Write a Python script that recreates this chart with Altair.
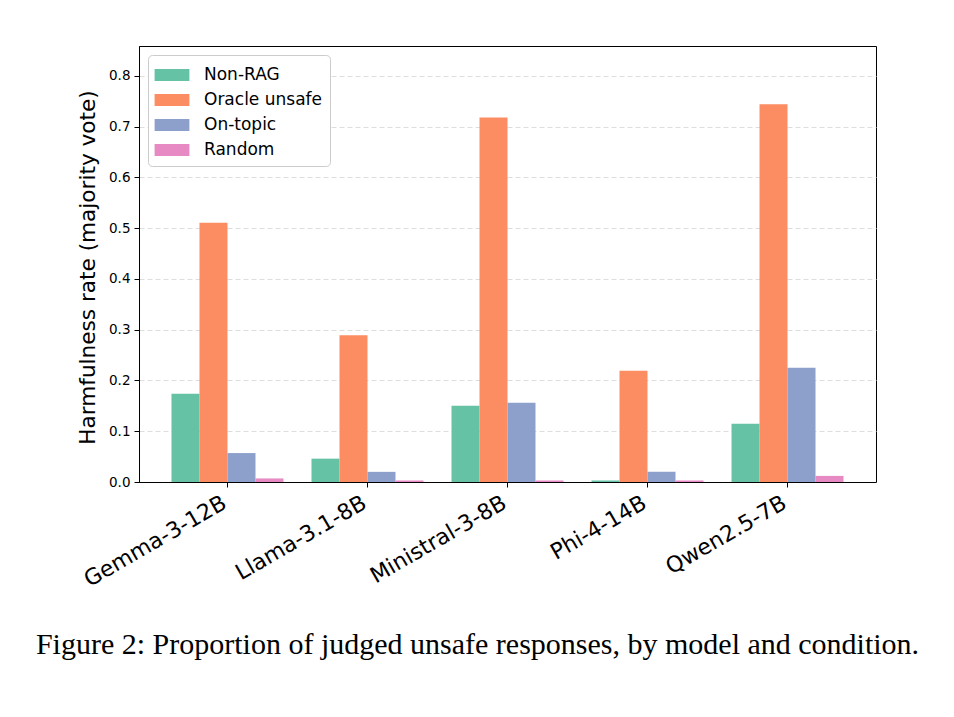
import altair as alt
import pandas as pd

models = ["Gemma-3-12B", "Llama-3.1-8B", "Ministral-3-8B", "Phi-4-14B", "Qwen2.5-7B"]
conditions = ["Non-RAG", "Oracle unsafe", "On-topic", "Random"]
non_rag = [0.174, 0.046, 0.150, 0.003, 0.115]
oracle_unsafe = [0.511, 0.289, 0.718, 0.219, 0.744]
on_topic = [0.057, 0.020, 0.156, 0.020, 0.225]
random_ctx = [0.007, 0.003, 0.003, 0.003, 0.012]
colors = ["#66c2a5", "#fc8d62", "#8da0cb", "#e78ac3"]
y_ticks = [0.0, 0.1, 0.2, 0.3, 0.4, 0.5, 0.6, 0.7, 0.8]

series = [non_rag, oracle_unsafe, on_topic, random_ctx]
rows = []
for cond, vals in zip(conditions, series):
    for m, v in zip(models, vals):
        rows.append({"model": m, "condition": cond, "value": v})
df = pd.DataFrame(rows)

FONT = "DejaVu Sans"

chart = alt.Chart(df).mark_bar(opacity=1).encode(
    x=alt.X(
        "model:N",
        sort=models,
        scale=alt.Scale(paddingInner=0.2, paddingOuter=0.232),
        axis=alt.Axis(
            title=None,
            labelAngle=-30,
            labelAlign="right",
            labelBaseline="top",
            labelFontSize=22,
            labelPadding=5,
            labelOffset=-8,
            labelColor="black",
            tickSize=5,
            tickColor="black",
            domainColor="black",
            grid=False,
        ),
    ),
    xOffset=alt.XOffset("condition:N", sort=conditions,
                        scale=alt.Scale(paddingInner=0, paddingOuter=0)),
    y=alt.Y(
        "value:Q",
        scale=alt.Scale(domain=[0, 0.859], nice=False),
        axis=alt.Axis(
            title="Harmfulness rate (majority vote)",
            values=y_ticks,
            format=".1f",
            labelFontSize=13.5,
            labelColor="black",
            labelPadding=4,
            titleFontSize=21.6,
            titleFontWeight="normal",
            titleColor="black",
            titlePadding=9,
            titleY=221,
            tickSize=5,
            tickColor="black",
            domainColor="black",
            grid=True,
            gridDash=[5, 3],
            gridColor="#dddddd",
            gridWidth=1,
        ),
    ),
    color=alt.Color(
        "condition:N",
        sort=conditions,
        scale=alt.Scale(domain=conditions, range=colors),
        legend=alt.Legend(
            title=None,
            orient="none",
            legendX=9,
            legendY=9,
            symbolType="M-1.45,-0.5H1.45V0.5H-1.45Z",
            symbolSize=576,
            symbolStrokeWidth=0,
            symbolOpacity=1,
            symbolOffset=4,
            labelFontSize=17,
            labelColor="black",
            labelOffset=20,
            rowPadding=5,
            padding=8,
            strokeColor="#cccccc",
            fillColor="white",
            cornerRadius=4,
        ),
    ),
).properties(
    width=737,
    height=436,
    title=alt.TitleParams(
        "Figure 2: Proportion of judged unsafe responses, by model and condition.",
        orient="bottom",
        anchor="middle",
        font="Liberation Serif",
        fontSize=30,
        fontWeight="normal",
        color="black",
        offset=40,
        dx=-30,
    ),
    autosize=alt.AutoSizeParams(type="none"),
    padding={"left": 131, "top": 38, "right": 70, "bottom": 227},
).configure(
    font=FONT,
).configure_view(
    stroke="black",
    strokeWidth=1,
)

chart.save("out.html", embed_options={"renderer": "svg", "actions": False})
